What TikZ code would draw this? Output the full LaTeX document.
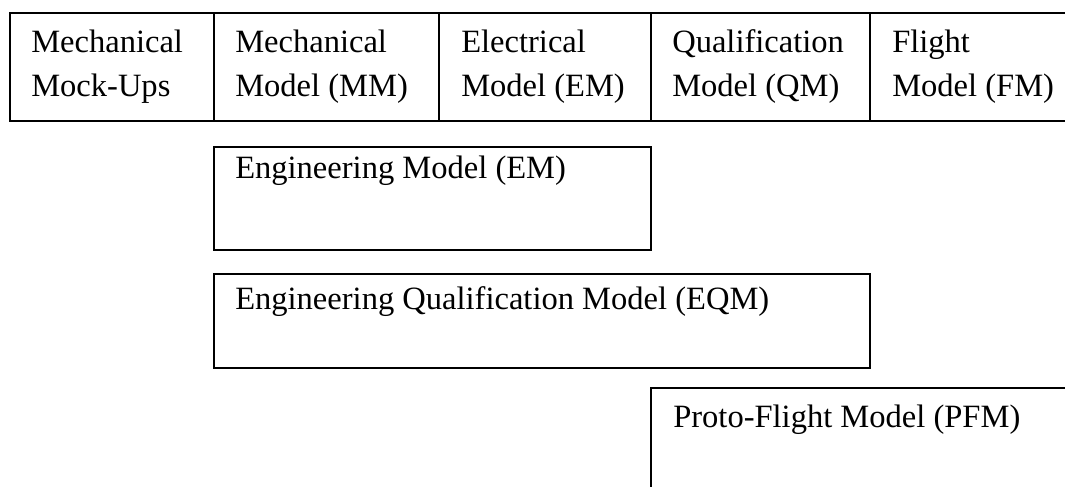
\documentclass[tikz,border=0pt]{standalone}
\usepackage{fontspec}
\setmainfont{Liberation Serif}
\begin{document}
\begin{tikzpicture}[x=0.75pt,y=-0.75pt,
  frame/.style={line width=1.5pt,black},
  lbl/.style={anchor=base west,inner sep=0pt,align=left,font=\fontsize{24.4pt}{32.3pt}\selectfont}]
\useasboundingbox (0,0) rectangle (1065,487);
% top row table
\draw[frame] (1065,13) -- (10,13) -- (10,121) -- (1065,121);
\foreach \x in {214,439,651,870} \draw[frame] (\x,13) -- (\x,121);
\node[lbl] (mmu) at (31,96) {Mechanical\\Mock-Ups};
\node[lbl] (mm)  at (235,96) {Mechanical\\Model (MM)};
\node[lbl] (elm) at (461,96) {Electrical\\Model (EM)};
\node[lbl] (qm)  at (672,96) {Qualification\\Model (QM)};
\node[lbl] (fm)  at (892,96) {Flight\\Model (FM)};
% boxes
\draw[frame] (214,147) rectangle (651,250);
\node[lbl] (em) at (235,178) {Engineering Model (EM)};
\draw[frame] (214,274) rectangle (870,368);
\node[lbl] (eqm) at (235,309) {Engineering Qualification Model (EQM)};
\draw[frame] (1065,388) -- (651,388) -- (651,487);
\node[lbl] (pfm) at (673,427) {Proto-Flight Model (PFM)};
\end{tikzpicture}
\end{document}
